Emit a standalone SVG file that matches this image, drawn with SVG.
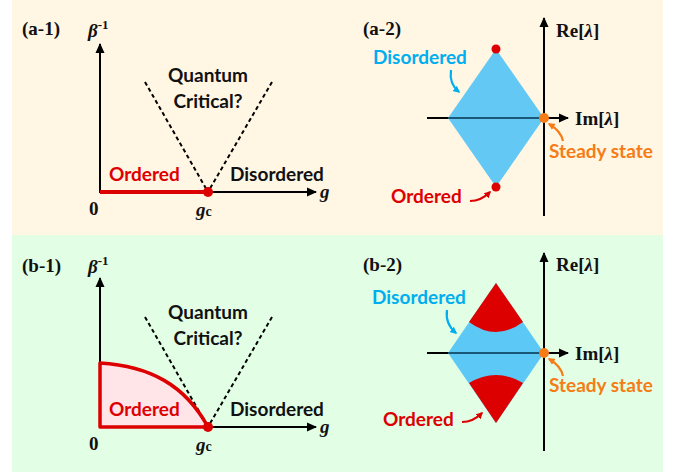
<svg xmlns="http://www.w3.org/2000/svg" width="679" height="472" viewBox="0 0 679 472">
<defs>
<marker id="ah" viewBox="0 0 10 10" refX="9" refY="5" markerWidth="10" markerHeight="10" markerUnits="userSpaceOnUse" orient="auto"><path d="M0,0.5 L10,5 L0,9.5 Z" fill="#000"/></marker>
<marker id="ahb" viewBox="0 0 10 10" refX="8" refY="5" markerWidth="7" markerHeight="7" markerUnits="userSpaceOnUse" orient="auto"><path d="M0,0 L10,5 L0,10 Z" fill="#00AEEF"/></marker>
<marker id="aho" viewBox="0 0 10 10" refX="8" refY="5" markerWidth="7" markerHeight="7" markerUnits="userSpaceOnUse" orient="auto"><path d="M0,0 L10,5 L0,10 Z" fill="#F57C16"/></marker>
<marker id="ahr" viewBox="0 0 10 10" refX="8" refY="5" markerWidth="7" markerHeight="7" markerUnits="userSpaceOnUse" orient="auto"><path d="M0,0 L10,5 L0,10 Z" fill="#DD0000"/></marker>
</defs>
<style>
.lab{font-family:"Liberation Serif",serif;font-weight:bold;font-size:19px;fill:#111}
.it{font-style:italic}
.ss{font-family:Lato,"Open Sans",sans-serif;font-weight:bold;font-size:19px}
.blk{fill:#111}
.red{fill:#DD0000}
.blu{fill:#00AEEF}
.org{fill:#F57C16}
.ax{stroke:#000;stroke-width:2;fill:none}
.dash{stroke:#000;stroke-width:2;stroke-dasharray:4,3;fill:none}
</style>
<rect x="12" y="0" width="651" height="235" fill="#FFF6E4"/>
<rect x="12" y="235" width="651" height="237" fill="#E2FFE5"/>

<g id="panel-a1">
<text class="lab" x="22" y="35">(a-1)</text>
<text class="lab" x="88" y="37"><tspan class="it">β</tspan><tspan font-size="13" dy="-8">-1</tspan></text>
<line class="dash" x1="145" y1="82" x2="208" y2="192"/>
<line class="dash" x1="272" y1="82" x2="208" y2="192"/>
<line class="ax" x1="100" y1="193" x2="100" y2="44" marker-end="url(#ah)"/>
<line class="ax" x1="100" y1="192" x2="316" y2="192" marker-end="url(#ah)"/>
<line x1="100" y1="192" x2="208" y2="192" stroke="#DD0000" stroke-width="4"/>
<circle cx="208" cy="192" r="5" fill="#DD0000"/>
<text class="lab it" x="320" y="198">g</text>
<text class="lab" x="89" y="215">0</text>
<text class="lab" x="196" y="216"><tspan class="it">g</tspan><tspan font-size="14">c</tspan></text>
<text class="ss blk" x="208" y="82" text-anchor="middle">Quantum</text>
<text class="ss blk" x="208" y="108" text-anchor="middle">Critical?</text>
<text class="ss red" x="109" y="181">Ordered</text>
<text class="ss blk" x="230" y="181">Disordered</text>
</g>

<g id="panel-a2">
<text class="lab" x="363" y="35">(a-2)</text>
<line class="ax" x1="427" y1="118" x2="568" y2="118" marker-end="url(#ah)"/>
<polygon points="496,49 544,118 496,187 448,118" fill="#64C8F4"/>
<line x1="448" y1="118" x2="544" y2="118" stroke="#1A5878" stroke-width="2"/>
<line class="ax" x1="544" y1="216" x2="544" y2="18" marker-end="url(#ah)"/>
<circle cx="496" cy="49" r="4.5" fill="#DD0000"/>
<circle cx="496" cy="187" r="4.5" fill="#DD0000"/>
<circle cx="544" cy="118" r="5" fill="#F57C16"/>
<text class="lab" x="556" y="37">Re[<tspan class="it">λ</tspan>]</text>
<text class="lab" x="575" y="125">Im[<tspan class="it">λ</tspan>]</text>
<text class="ss blu" x="373" y="64">Disordered</text>
<text class="ss org" x="549" y="158">Steady state</text>
<text class="ss red" x="391" y="203">Ordered</text>
</g>

<g id="panel-b1">
<text class="lab" x="22" y="272">(b-1)</text>
<text class="lab" x="88" y="273"><tspan class="it">β</tspan><tspan font-size="13" dy="-8">-1</tspan></text>
<path d="M100,427 L100,363 C150,366 185,385 208,427 Z" fill="#FFE4E8"/>
<line class="dash" x1="145" y1="317" x2="208" y2="427"/>
<line class="dash" x1="272" y1="317" x2="208" y2="427"/>
<line class="ax" x1="100" y1="428" x2="100" y2="278" marker-end="url(#ah)"/>
<line class="ax" x1="100" y1="427" x2="316" y2="427" marker-end="url(#ah)"/>
<path d="M208,427 L100,427 L100,363 C150,366 185,385 208,427" fill="none" stroke="#DD0000" stroke-width="3.5" stroke-linejoin="round"/>
<circle cx="208" cy="427" r="5" fill="#DD0000"/>
<text class="lab it" x="320" y="433">g</text>
<text class="lab" x="89" y="450">0</text>
<text class="lab" x="196" y="451"><tspan class="it">g</tspan><tspan font-size="14">c</tspan></text>
<text class="ss blk" x="208" y="319" text-anchor="middle">Quantum</text>
<text class="ss blk" x="208" y="345" text-anchor="middle">Critical?</text>
<text class="ss red" x="109" y="416">Ordered</text>
<text class="ss blk" x="230" y="416">Disordered</text>
</g>

<g id="panel-b2">
<text class="lab" x="363" y="271">(b-2)</text>
<line class="ax" x1="427" y1="353" x2="568" y2="353" marker-end="url(#ah)"/>
<polygon points="496,283 544,353 496,423 448,353" fill="#5CC8F5"/>
<path d="M496,283 L523,322 Q496,342 469,322 Z" fill="#DD0000"/>
<path d="M469,383 Q496,367 523,383 L496,423 Z" fill="#DD0000"/>
<line x1="448" y1="353" x2="544" y2="353" stroke="#1A5878" stroke-width="2"/>
<line class="ax" x1="544" y1="451" x2="544" y2="253" marker-end="url(#ah)"/>
<circle cx="544" cy="353" r="5" fill="#F57C16"/>
<text class="lab" x="556" y="271">Re[<tspan class="it">λ</tspan>]</text>
<text class="lab" x="575" y="360">Im[<tspan class="it">λ</tspan>]</text>
<text class="ss blu" x="372" y="304">Disordered</text>
<text class="ss org" x="549" y="392">Steady state</text>
<text class="ss red" x="383" y="426">Ordered</text>
</g>

<g id="connectors">
<path d="M451,70 Q449,84 459,92" fill="none" stroke="#00AEEF" stroke-width="2.2" marker-end="url(#ahb)"/>
<path d="M563,141 Q561,131 549,124" fill="none" stroke="#F57C16" stroke-width="2.2" marker-end="url(#aho)"/>
<path d="M470,201 Q481,201 490,192" fill="none" stroke="#DD0000" stroke-width="2.2" marker-end="url(#ahr)"/>
<path d="M447,310 Q445,324 456,333" fill="none" stroke="#00AEEF" stroke-width="2.2" marker-end="url(#ahb)"/>
<path d="M563,376 Q561,366 549,359" fill="none" stroke="#F57C16" stroke-width="2.2" marker-end="url(#aho)"/>
<path d="M462,422 Q473,422 482,413" fill="none" stroke="#DD0000" stroke-width="2.2" marker-end="url(#ahr)"/>
</g>
</svg>
